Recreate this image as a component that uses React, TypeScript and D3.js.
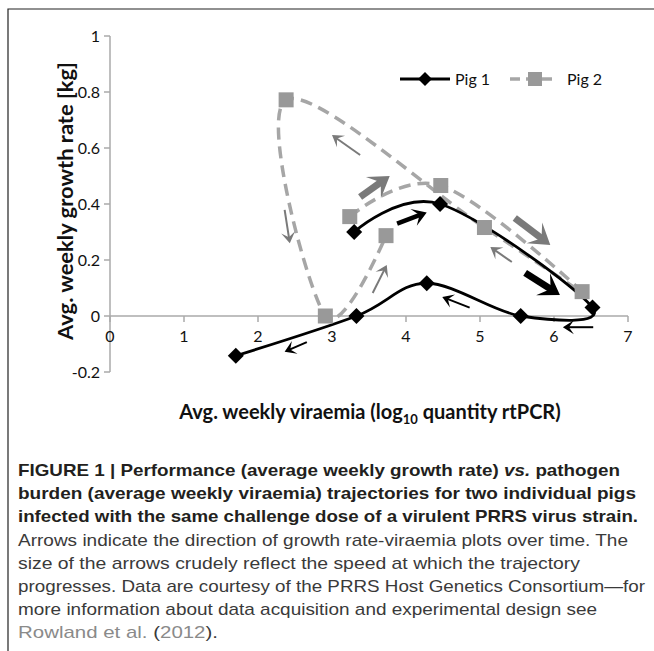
import * as d3 from "d3";

const W = 654;
const H = 651;

// trajectory points, in time order
const pig1X = [3.30, 4.46, 6.52, 5.55, 4.28, 3.33, 1.70];
const pig1Y = [0.30, 0.40, 0.03, 0.00, 0.117, 0.00, -0.142];
const pig2X = [3.24, 4.47, 6.38, 5.06, 2.38, 2.91, 3.73];
const pig2Y = [0.355, 0.466, 0.087, 0.316, 0.772, 0.00, 0.287];

const xTicks = [0, 1, 2, 3, 4, 5, 6, 7];
const yTicks = [-0.2, 0, 0.2, 0.4, 0.6, 0.8, 1];
const yTickLabels = ["-0.2", "0", "0.2", "0.4", "0.6", "0.8", "1"];

// direction arrows drawn on the plot (data coordinates)
const arrows1 = [
    {x1: 3.88, y1: 0.33, x2: 4.28, y2: 0.37, size: "mid"},
    {x1: 5.61, y1: 0.154, x2: 6.08, y2: 0.075, size: "big"},
    {x1: 6.53, y1: -0.04, x2: 6.12, y2: -0.04, size: "thin"},
    {x1: 4.86, y1: 0.03, x2: 4.49, y2: 0.068, size: "thin"},
    {x1: 2.66, y1: -0.093, x2: 2.36, y2: -0.128, size: "thin"},
];
const arrows2 = [
    {x1: 3.38, y1: 0.425, x2: 3.78, y2: 0.50, size: "big"},
    {x1: 5.47, y1: 0.35, x2: 5.95, y2: 0.254, size: "big"},
    {x1: 5.43, y1: 0.193, x2: 5.14, y2: 0.246, size: "thin"},
    {x1: 3.38, y1: 0.575, x2: 3.0, y2: 0.646, size: "thin"},
    {x1: 2.36, y1: 0.379, x2: 2.43, y2: 0.26, size: "thin"},
    {x1: 3.55, y1: 0.082, x2: 3.74, y2: 0.182, size: "thin"},
];

const boldLines = [
    "burden (average weekly viraemia) trajectories for two individual pigs",
    "infected with the same challenge dose of a virulent PRRS virus strain.",
];
const bodyLines = [
    "Arrows indicate the direction of growth rate-viraemia plots over time. The",
    "size of the arrows crudely reflect the speed at which the trajectory",
    "progresses. Data are courtesy of the PRRS Host Genetics Consortium\u2014for",
    "more information about data acquisition and experimental design see",
];
// rendered width of each caption line, first line to last
const lineWidths = [602, 618, 620, 610, 562, 627, 579, 200];

const ARROW_SIZES: Record<string, {w: number; len: number; half: number}> = {
    big: {w: 7, len: 20, half: 13},
    mid: {w: 4.5, len: 14, half: 9},
    thin: {w: 2, len: 11, half: 7},
};

const x = d3.scaleLinear().domain([0, 7]).range([110, 628]);
const y = d3.scaleLinear().domain([-0.2, 1]).range([372, 36]);

function Arrow({a, color}: {a: any; color: string}) {
    const s = ARROW_SIZES[a.size];
    const x1 = x(a.x1), y1 = y(a.y1), x2 = x(a.x2), y2 = y(a.y2);
    const ang = Math.atan2(y2 - y1, x2 - x1);
    const ux = Math.cos(ang), uy = Math.sin(ang);
    const bx = x2 - ux * s.len, by = y2 - uy * s.len;
    const nx = x2 - ux * s.len * 0.55, ny = y2 - uy * s.len * 0.55;
    const pts = [
        [x2, y2],
        [bx - uy * s.half, by + ux * s.half],
        [nx, ny],
        [bx + uy * s.half, by - ux * s.half],
    ];
    return (
        <g>
            <line x1={x1} y1={y1} x2={nx + ux * 2} y2={ny + uy * 2} stroke={color} strokeWidth={s.w}/>
            <polygon points={pts.map((p) => p.join(",")).join(" ")} fill={color}/>
        </g>
    );
}

export default function App() {
    const line = d3.line<number>().curve(d3.curveCatmullRom.alpha(0));
    const path1 = line.x((_, i) => x(pig1X[i])).y((_, i) => y(pig1Y[i]))(pig1X);
    const path2 = line.x((_, i) => x(pig2X[i])).y((_, i) => y(pig2Y[i]))(pig2X);

    const tickFont = "Lato, 'Open Sans', sans-serif";
    const capFont = "'Liberation Sans', Arial, sans-serif";
    const lineY = (i: number) => 476 + i * 23.2;

    return (
        <svg width={W} height={H} style={{position: "absolute", left: 0, top: 0, background: "#fff"}}>
            {/* frame */}
            <path d={`M8,${H} V9 H${W}`} fill="none" stroke="#222" strokeWidth={1.2}/>

            {/* axes */}
            <line x1={x(0)} x2={x(0)} y1={y(1)} y2={y(-0.2)} stroke="#aaa" strokeWidth={1.5}/>
            <line x1={x(0)} x2={x(7)} y1={y(0)} y2={y(0)} stroke="#aaa" strokeWidth={1.5}/>
            {yTicks.map((t, i) => (
                <g key={t}>
                    <line x1={x(0) - 6} x2={x(0)} y1={y(t)} y2={y(t)} stroke="#aaa" strokeWidth={1.5}/>
                    <text x={x(0) - 10} y={y(t)} dy="0.35em" textAnchor="end" fontSize={16}
                          fontFamily={tickFont} fill="#111">{yTickLabels[i]}</text>
                </g>
            ))}
            {xTicks.map((t) => (
                <g key={t}>
                    <line x1={x(t)} x2={x(t)} y1={y(0)} y2={y(0) + 6} stroke="#aaa" strokeWidth={1.5}/>
                    <text x={x(t)} y={y(0) + 26} textAnchor="middle" fontSize={16}
                          fontFamily={tickFont} fill="#111">{t}</text>
                </g>
            ))}

            {/* axis titles */}
            <text x={370} y={419} textAnchor="middle" fontSize={20} fontWeight="bold" fontFamily={tickFont} fill="#111">
                Avg. weekly viraemia (log<tspan fontSize={13} dy={5}>10</tspan><tspan dy={-5}> quantity rtPCR)</tspan>
            </text>
            <text transform="translate(73,201) rotate(-90)" textAnchor="middle" fontSize={20} fontWeight="bold"
                  fontFamily={tickFont} fill="#111" textLength={278} lengthAdjust="spacingAndGlyphs">
                Avg. weekly growth rate [kg]
            </text>

            {/* series */}
            <path d={path2 ?? ""} fill="none" stroke="#a6a6a6" strokeWidth={3.5} strokeDasharray="12 7"/>
            <path d={path1 ?? ""} fill="none" stroke="#000" strokeWidth={2.8}/>
            {pig2X.map((v, i) => (
                <rect key={i} x={x(v) - 7.5} y={y(pig2Y[i]) - 7.5} width={15} height={15} fill="#999"/>
            ))}
            {pig1X.map((v, i) => (
                <path key={i} d={`M${x(v)},${y(pig1Y[i]) - 8} l8,8 l-8,8 l-8,-8 z`} fill="#000"/>
            ))}

            {arrows1.map((a, i) => <Arrow key={"a" + i} a={a} color="#000"/>)}
            {arrows2.map((a, i) => <Arrow key={"b" + i} a={a} color="#7a7a7a"/>)}

            {/* legend */}
            <g>
                <line x1={400} x2={450} y1={79} y2={79} stroke="#000" strokeWidth={3}/>
                <path d="M425,72 l7,7 l-7,7 l-7,-7 z" fill="#000"/>
                <text x={455} y={79} dy="0.35em" fontSize={16} fontFamily={tickFont} fill="#111">Pig 1</text>
                <line x1={510} x2={555} y1={79} y2={79} stroke="#a6a6a6" strokeWidth={3.5} strokeDasharray="10 6"/>
                <rect x={528} y={72} width={14} height={14} fill="#999"/>
                <text x={567} y={79} dy="0.35em" fontSize={16} fontFamily={tickFont} fill="#111">Pig 2</text>
            </g>

            {/* caption */}
            <g fontFamily={capFont} fontSize={17}>
                <text x={18} y={lineY(0)} fontWeight="bold" fill="#231f20" textLength={lineWidths[0]}
                      lengthAdjust="spacingAndGlyphs">
                    FIGURE 1 | Performance (average weekly growth rate) <tspan fontStyle="italic">vs.</tspan> pathogen
                </text>
                {boldLines.map((l, i) => (
                    <text key={l} x={18} y={lineY(1 + i)} fontWeight="bold" fill="#231f20"
                          textLength={lineWidths[1 + i]} lengthAdjust="spacingAndGlyphs">{l}</text>
                ))}
                {bodyLines.map((l, i) => (
                    <text key={l} x={18} y={lineY(3 + i)} fill="#3a3a3a"
                          textLength={lineWidths[3 + i]} lengthAdjust="spacingAndGlyphs">{l}</text>
                ))}
                <text x={18} y={lineY(7)} fill="#3a3a3a" textLength={lineWidths[7]} lengthAdjust="spacingAndGlyphs">
                    <tspan fill="#8a8a8a">Rowland et al.</tspan> (<tspan fill="#8a8a8a">2012</tspan>).
                </text>
            </g>
        </svg>
    );
}
